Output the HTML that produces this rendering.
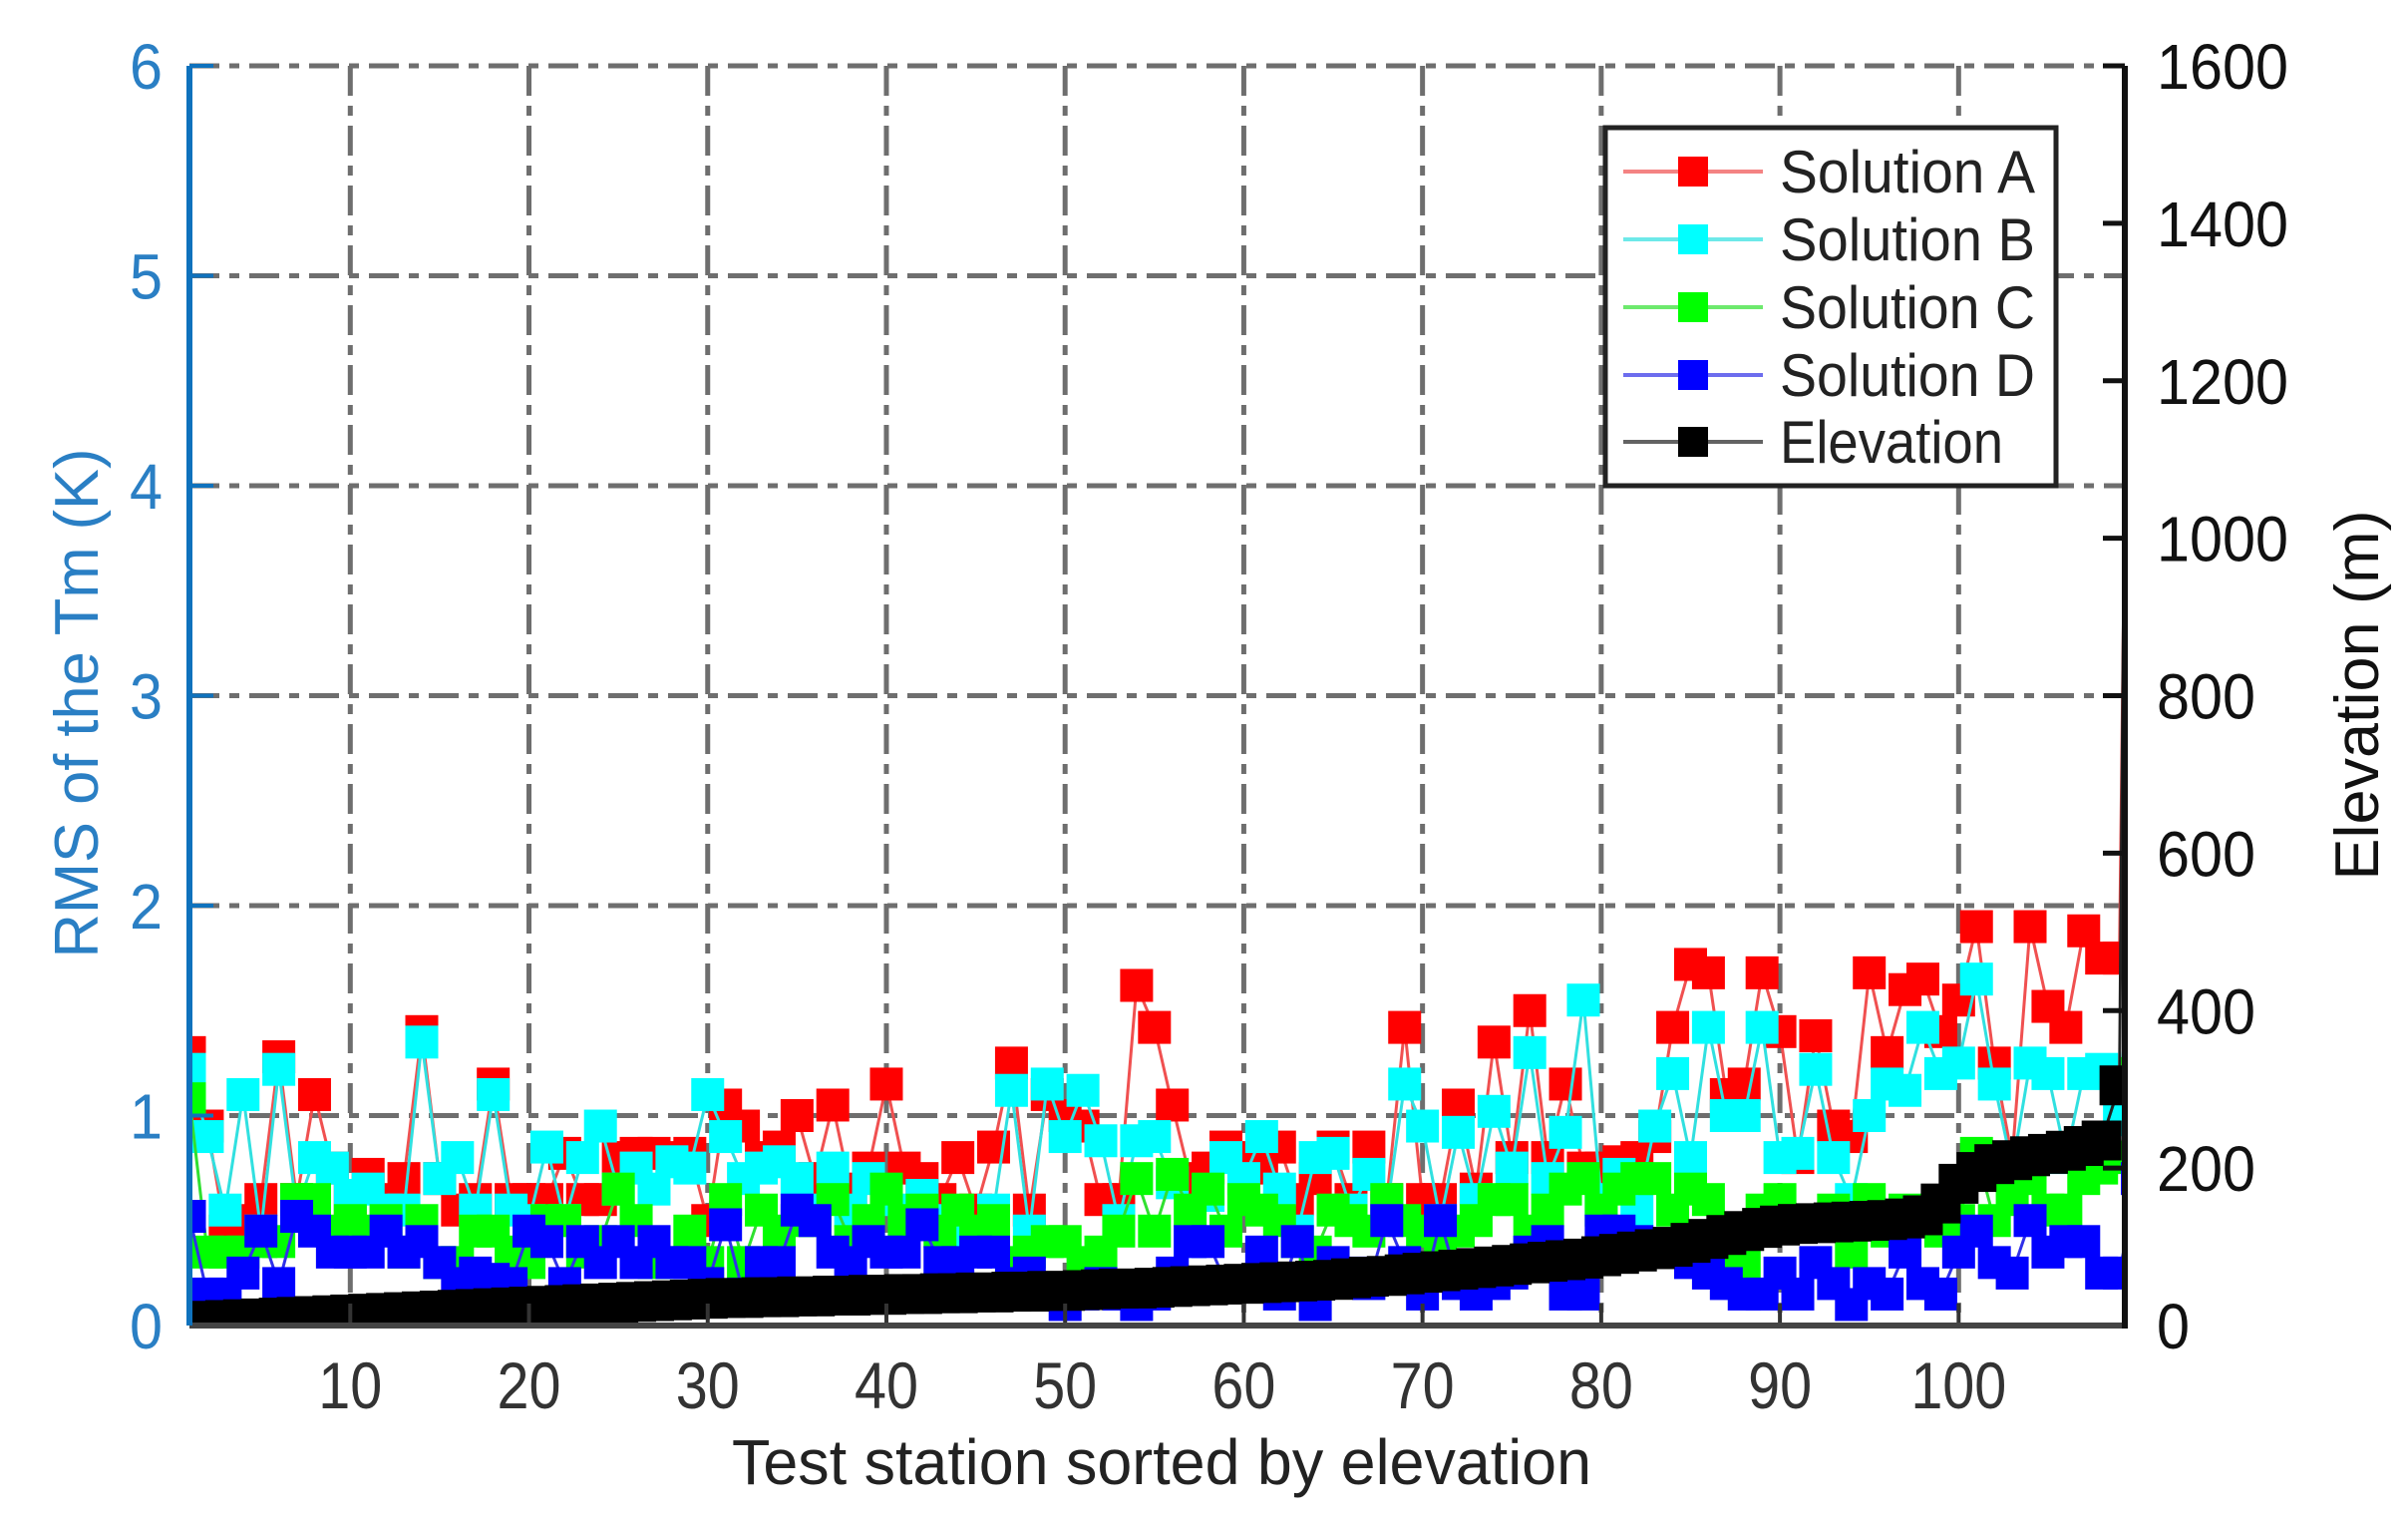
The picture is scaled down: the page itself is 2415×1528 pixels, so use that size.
<!DOCTYPE html>
<html><head><meta charset="utf-8"><style>
html,body{margin:0;padding:0;background:#fff;}
svg{display:block;font-family:"Liberation Sans",Arial,sans-serif;}
</style></head><body>
<svg id="chart" width="2415" height="1528" viewBox="0 0 2415 1528" xmlns="http://www.w3.org/2000/svg">
<defs><clipPath id="plotclip"><rect x="190" y="66" width="1941" height="1263"/></clipPath></defs>
<rect x="0" y="0" width="2415" height="1528" fill="#fff"/>
<g id="grid"></g>
<g id="series" clip-path="url(#plotclip)"></g>
<g id="axes"></g>
<text x="1165" y="1488" font-size="64" text-anchor="middle" textLength="862" lengthAdjust="spacingAndGlyphs" fill="#222">Test station sorted by elevation</text>
<text transform="translate(98,705) rotate(-90)" x="0" y="0" font-size="62" text-anchor="middle" textLength="511" lengthAdjust="spacingAndGlyphs" fill="#2a7fc4">RMS of the Tm (K)</text>
<text transform="translate(2385,697) rotate(-90)" x="0" y="0" font-size="62" text-anchor="middle" textLength="371" lengthAdjust="spacingAndGlyphs" fill="#111">Elevation (m)</text>
<g id="legend">
<rect x="1610" y="128" width="452" height="359" fill="#fff" stroke="#222" stroke-width="5"/>
</g>
</svg>
<script>
const xTicks=[10,20,30,40,50,60,70,80,90,100];
const yTicksLeft=[0,1,2,3,4,5,6];
const yTicksRight=[0,200,400,600,800,1000,1200,1400,1600];
const solA=[1.3,0.95,0.45,0.5,0.6,1.28,0.6,1.1,0.75,0.6,0.72,0.6,0.7,1.4,0.7,0.55,0.6,1.15,0.6,0.6,0.6,0.82,0.6,0.6,0.8,0.82,0.82,0.8,0.82,0.5,1.05,0.95,0.8,0.85,1.0,0.7,1.05,0.65,0.75,1.15,0.75,0.7,0.6,0.8,0.55,0.85,1.25,0.55,1.1,1.0,0.95,0.6,0.6,1.62,1.42,1.05,0.7,0.75,0.85,0.8,0.75,0.85,0.6,0.7,0.85,0.6,0.85,0.6,1.42,0.6,0.6,1.05,0.65,1.35,0.8,1.5,0.8,1.15,0.75,0.75,0.78,0.8,0.9,1.42,1.72,1.68,1.1,1.15,1.68,1.4,0.8,1.38,0.95,0.9,1.68,1.3,1.6,1.65,1.4,1.55,1.9,1.25,0.8,1.9,1.52,1.42,1.88,1.75,1.75,9];
const solB=[1.22,0.9,0.55,1.1,0.45,1.22,0.55,0.8,0.75,0.62,0.65,0.55,0.55,1.35,0.7,0.8,0.55,1.1,0.55,0.5,0.85,0.5,0.8,0.95,0.65,0.75,0.65,0.78,0.75,1.1,0.9,0.7,0.75,0.78,0.7,0.55,0.75,0.55,0.7,0.6,0.55,0.62,0.5,0.4,0.4,0.55,1.12,0.45,1.15,0.9,1.12,0.88,0.5,0.88,0.9,0.68,0.4,0.62,0.8,0.7,0.9,0.65,0.45,0.8,0.82,0.55,0.72,0.55,1.15,0.95,0.5,0.92,0.6,1.02,0.75,1.3,0.7,0.92,1.55,0.6,0.72,0.55,0.95,1.2,0.8,1.42,1.0,1.0,1.42,0.8,0.82,1.22,0.8,0.6,1.0,1.15,1.12,1.42,1.2,1.25,1.65,1.15,0.75,1.25,1.2,0.8,1.2,1.22,0.98,2.5];
const solC=[1.08,0.35,0.35,0.35,0.4,0.4,0.6,0.6,0.45,0.5,0.45,0.5,0.35,0.5,0.3,0.3,0.45,0.45,0.35,0.3,0.5,0.5,0.35,0.4,0.65,0.5,0.3,0.3,0.45,0.3,0.6,0.3,0.55,0.45,0.5,0.5,0.6,0.4,0.5,0.65,0.5,0.55,0.45,0.55,0.45,0.5,0.3,0.35,0.4,0.4,0.3,0.35,0.45,0.7,0.45,0.72,0.55,0.65,0.45,0.6,0.55,0.5,0.4,0.35,0.55,0.5,0.45,0.6,0.5,0.45,0.35,0.45,0.5,0.6,0.6,0.45,0.55,0.65,0.7,0.55,0.65,0.7,0.7,0.55,0.65,0.6,0.3,0.3,0.55,0.6,0.5,0.5,0.55,0.35,0.6,0.45,0.55,0.5,0.45,0.5,0.82,0.5,0.6,0.7,0.55,0.55,0.7,0.75,0.8,1.2];
const solD=[0.52,0.15,0.15,0.25,0.45,0.2,0.52,0.45,0.35,0.35,0.35,0.45,0.35,0.4,0.3,0.2,0.25,0.22,0.2,0.45,0.4,0.2,0.4,0.3,0.4,0.3,0.4,0.3,0.3,0.2,0.48,0.15,0.3,0.3,0.55,0.5,0.35,0.3,0.4,0.35,0.35,0.48,0.3,0.3,0.35,0.35,0.2,0.25,0.15,0.1,0.15,0.2,0.15,0.1,0.15,0.25,0.4,0.4,0.2,0.2,0.35,0.15,0.4,0.1,0.3,0.25,0.2,0.5,0.3,0.15,0.5,0.2,0.15,0.2,0.25,0.35,0.4,0.15,0.15,0.45,0.45,0.4,0.35,0.35,0.3,0.25,0.2,0.15,0.15,0.25,0.15,0.3,0.2,0.1,0.2,0.15,0.35,0.2,0.15,0.35,0.45,0.3,0.25,0.5,0.35,0.4,0.4,0.25,0.25,0.7];
const elevation=[5,6,7,8,9,10,11,12,13,14,15,16,17,18,19,20,21,22,23,24,25,26,27,28,29,30,31,32,33,34,35,35,36,36,37,37,38,38,39,39,40,40,41,41,42,42,43,43,44,44,45,46,47,47,48,49,50,51,52,53,54,55,56,57,58,60,62,63,65,67,69,71,73,75,77,79,81,83,85,88,91,94,97,100,105,110,115,120,124,127,129,130,131,132,133,134,136,140,155,180,195,205,210,215,218,222,228,235,305,3000];

const NS="http://www.w3.org/2000/svg";
const L=190,R=2131,T=66,B=1329;
const xmin=1,xmax=109.3;
function xs(i){return L+(i-xmin)/(xmax-xmin)*(R-L);}
function yl(v){return B-v/6*(B-T);}
function yr(v){return B-v/1600*(B-T);}
function mk(tag,attrs,parent){const e=document.createElementNS(NS,tag);for(const k in attrs)e.setAttribute(k,attrs[k]);parent.appendChild(e);return e;}
const grid=document.getElementById('grid'),axes=document.getElementById('axes'),ser=document.getElementById('series'),leg=document.getElementById('legend');
const dash="30 10 10 10";
xTicks.forEach(t=>{
  const g=mk('line',{x1:xs(t),x2:xs(t),y1:T,y2:B,stroke:'#6e6e6e','stroke-width':5,'stroke-dasharray':dash},grid);
  
  
  const tk=mk('line',{x1:xs(t),x2:xs(t),y1:B,y2:B-22,stroke:'#333','stroke-width':4},axes);
  
  
  const tx=mk('text',{x:xs(t),y:1412,'font-size':66,'text-anchor':'middle',fill:'#333',textLength:String(t).length*32,lengthAdjust:'spacingAndGlyphs'},axes);
  tx.textContent=t;
  
  
});
yTicksLeft.forEach(t=>{
  if(t>0){const g=mk('line',{x1:L,x2:R,y1:yl(t),y2:yl(t),stroke:'#6e6e6e','stroke-width':5,'stroke-dasharray':dash},grid);
  
  }
  const tk=mk('line',{x1:L,x2:L+24,y1:yl(t),y2:yl(t),stroke:'#0f72bd','stroke-width':4},axes);
  
  
  const tx=mk('text',{x:163,y:yl(t)+23,'font-size':64,'text-anchor':'end',fill:'#2a7fc4',textLength:33,lengthAdjust:'spacingAndGlyphs'},axes);
  tx.textContent=t;
  
  
});
yTicksRight.forEach(t=>{
  const tk=mk('line',{x1:R,x2:R-22,y1:yr(t),y2:yr(t),stroke:'#111','stroke-width':5},axes);
  
  
  const tx=mk('text',{x:2163,y:yr(t)+23,'font-size':64,fill:'#111',textLength:String(t).length*33,lengthAdjust:'spacingAndGlyphs'},axes);
  tx.textContent=t;
  
  
});
const bx=mk('line',{x1:L,x2:R,y1:B,y2:B,stroke:'#444','stroke-width':6},axes);


const la=mk('line',{x1:L,x2:L,y1:T,y2:B,stroke:'#0f72bd','stroke-width':6},axes);


const ra=mk('line',{x1:R,x2:R,y1:T,y2:B+3,stroke:'#111','stroke-width':6},axes);



const seriesDefs=[
 {name:'solution-a',data:solA,scale:yl,line:'#f05050',fill:'#ff0000',m:33},
 {name:'solution-b',data:solB,scale:yl,line:'#30e0e0',fill:'#00ffff',m:33},
 {name:'solution-c',data:solC,scale:yl,line:'#30e030',fill:'#00ff00',m:33},
 {name:'solution-d',data:solD,scale:yl,line:'#3030e8',fill:'#0000ff',m:33},
 {name:'elevation',data:elevation,scale:yr,line:'#222',fill:'#000',m:40}
];
seriesDefs.forEach(s=>{
  const M=s.m;
  const g=mk('g',{},ser);
  
  
  const pts=s.data.map((v,i)=>xs(i+1).toFixed(1)+','+s.scale(v).toFixed(1)).join(' ');
  const pl=mk('polyline',{points:pts,fill:'none',stroke:s.line,'stroke-width':3},g);
  
  
  s.data.forEach((v,i)=>{
    const r=mk('rect',{x:xs(i+1)-M/2,y:s.scale(v)-M/2,width:M,height:M,fill:s.fill},g);
    
    
  });
});
const legendLabels=['Solution A','Solution B','Solution C','Solution D','Elevation'];
const legendY=[172,240,308,376,443];
legendLabels.forEach((lab,k)=>{
  const s=seriesDefs[k];
  const g=mk('g',{},leg);
  
  
  mk('line',{x1:1628,x2:1768,y1:legendY[k],y2:legendY[k],stroke:s.line,'stroke-width':4,opacity:0.7},g);
  mk('rect',{x:1683,y:legendY[k]-15,width:30,height:30,fill:s.fill},g);
  const t=mk('text',{x:1785,y:legendY[k]+21,'font-size':60,fill:'#222',textLength:lab==='Elevation'?224:256,lengthAdjust:'spacingAndGlyphs'},g);
  t.textContent=lab;
});
</script>
</body></html>
